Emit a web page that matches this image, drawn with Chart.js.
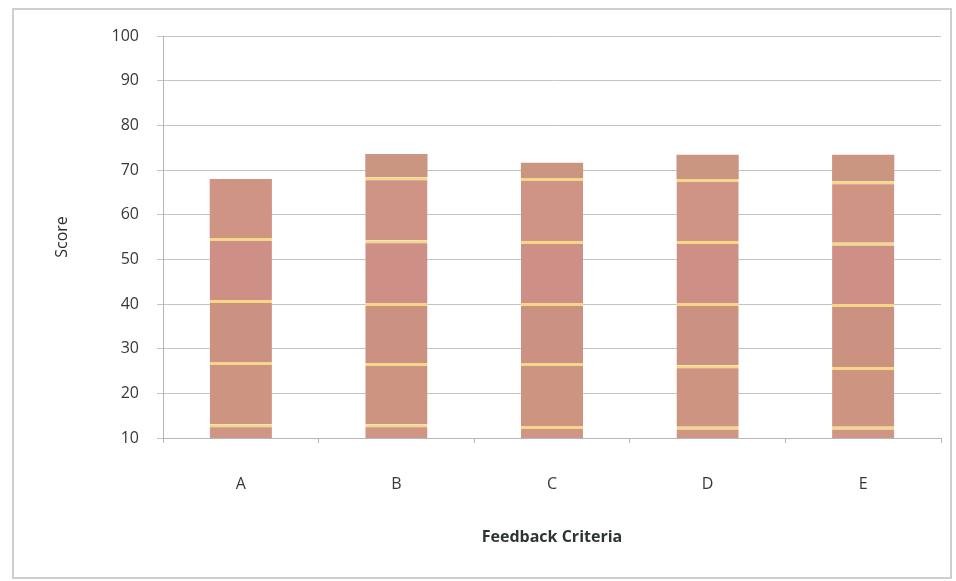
<!DOCTYPE html>
<html>
<head>
<meta charset="utf-8">
<script src="https://cdn.jsdelivr.net/npm/chart.js@4.4.0/dist/chart.umd.min.js"></script>
<style>
  body { margin: 0; background: #fff; }
  #wrap { position: relative; width: 956px; height: 581px; }
  #frame { position: absolute; left: 12px; top: 8px; width: 936px; height: 567px; border: 2px solid #cfcfcf; pointer-events: none; }
</style>
</head>
<body>
<div id="wrap">
  <canvas id="barChart" width="956" height="581"></canvas>
  <div id="frame"></div>
</div>
<script>
// categories and stacked segment values (each bar is split in bands)
let categories = ["A", "B", "C", "D", "E"];
let band1 = [13.1, 13.1, 12.7, 12.5, 12.5];
let band2 = [13.9, 13.7, 14.1, 13.8, 13.4];
let band3 = [13.9, 13.4, 13.4, 13.9, 14.1];
let band4 = [13.9, 14.1, 13.9, 13.9, 13.7];
let band5 = [13.2, 14.1, 14.1, 13.9, 13.8];
let band6 = [0, 5.2, 3.4, 5.4, 5.9];
let yTicks = [10, 20, 30, 40, 50, 60, 70, 80, 90, 100];

(function () {
    let bands = [band1, band2, band3, band4, band5, band6];
    let fills = ['#d09585', '#cd9482', '#cb9281', '#ce9086', '#d09485', '#cb9681'];
    let dataSets = [];
    bands.forEach(function (band, i) {
        dataSets.push({
            label: "Band " + (i + 1),
            data: band,
            backgroundColor: fills[i],
            borderColor: '#f4d88a',
            borderWidth: function (ctx) {
                // yellow line only where another band sits on top
                let above = bands.slice(i + 1).some(b => b[ctx.dataIndex] > 0);
                return {top: above ? 3 : 0, left: 0, right: 0, bottom: 0};
            },
            borderSkipped: false,
            barPercentage: 0.4,
            categoryPercentage: 1
        });
    });

    let font = {family: "'Open Sans', 'Liberation Sans', sans-serif", size: 16};

    new Chart(document.getElementById("barChart"), {
        type: 'bar',
        data: {
            labels: categories,
            datasets: dataSets
        },
        options: {
            responsive: false,
            animation: false,
            layout: {padding: {top: 36, right: 15, bottom: 0, left: 0}},
            plugins: {
                legend: {display: false},
                tooltip: {enabled: false}
            },
            scales: {
                x: {
                    stacked: true,
                    grid: {
                        offset: true,
                        drawOnChartArea: false,
                        tickLength: 5,
                        color: '#b5b5b5'
                    },
                    border: {color: '#b5b5b5', width: 1},
                    ticks: {color: '#383838', font: font, padding: 32},
                    title: {
                        display: true,
                        text: 'Feedback Criteria',
                        color: '#2c3434',
                        font: {family: font.family, size: 16, weight: 'bold'},
                        padding: {top: 0, bottom: 34}
                    },
                    afterFit: function (s) { s.height = 143; }
                },
                y: {
                    stacked: true,
                    min: 10,
                    max: 100,
                    afterBuildTicks: function (s) { s.ticks = yTicks.map(v => ({value: v})); },
                    grid: {color: '#c4c4c4', tickLength: 6},
                    border: {color: '#b5b5b5', width: 1},
                    ticks: {color: '#383838', font: font, padding: 18},
                    title: {
                        display: true,
                        text: 'Score',
                        color: '#2c2c2c',
                        font: font,
                        padding: {top: 53, bottom: 0}
                    },
                    afterFit: function (s) { s.width = 163; }
                }
            }
        }
    });
})();
</script>
</body>
</html>
